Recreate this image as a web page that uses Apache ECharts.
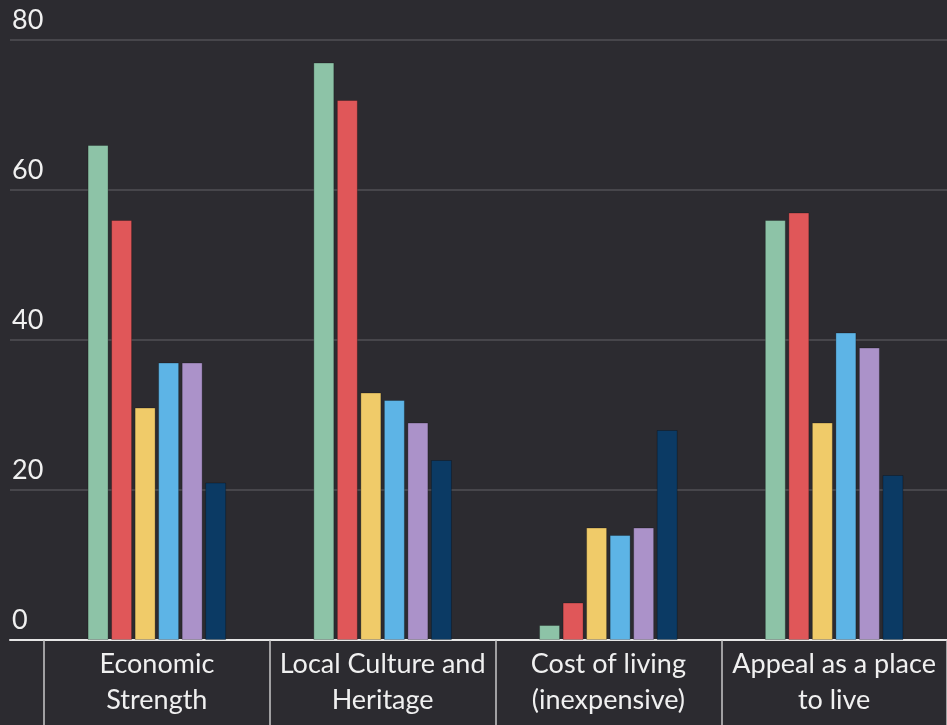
<!DOCTYPE html>
<html>
<head>
<meta charset="utf-8">
<script src="https://cdn.jsdelivr.net/npm/echarts@6/dist/echarts.min.js"></script>
<style>
  html, body { margin: 0; padding: 0; background: #2c2b30; }
  #chart { width: 947px; height: 725px; }
</style>
</head>
<body>
<div id="chart"></div>
<script>
// categories + six series
const categories = ["Economic\nStrength", "Local Culture and\nHeritage", "Cost of living\n(inexpensive)", "Appeal as a place\nto live"];
const seriesNames = ["Series 1", "Series 2", "Series 3", "Series 4", "Series 5", "Series 6"];
const seriesColors = ["#8dc3a7", "#e05759", "#f0cb69", "#5db4e6", "#ab92c9", "#0b3a64"];
const s1 = [66, 77, 2, 56];
const s2 = [56, 72, 5, 57];
const s3 = [31, 33, 15, 29];
const s4 = [37, 32, 14, 41];
const s5 = [37, 29, 15, 39];
const s6 = [21, 24, 28, 22];
const seriesValues = [s1, s2, s3, s4, s5, s6];
const yTicks = [0, 20, 40, 60, 80];

const FONT = "Lato, 'Noto Sans', sans-serif";
const chart = echarts.init(document.getElementById("chart"), null, { renderer: "canvas" });

chart.setOption({
  animation: false,
  backgroundColor: "#2c2b30",
  textStyle: { fontFamily: FONT },
  grid: [
    // background grid: gridlines + y labels + zero line, runs from x=10
    { left: 10, right: -3, top: 40, bottom: 85 },
    // bars + category separators
    { left: 44, right: -3, top: 40, bottom: 85 },
  ],
  xAxis: [
    {
      gridIndex: 0,
      type: "category",
      data: [""],
      axisLine: { show: true, lineStyle: { color: "#e6e6e6", width: 2 } },
      axisTick: { show: false },
      axisLabel: { show: false },
    },
    {
      gridIndex: 1,
      type: "category",
      data: categories,
      axisLine: { show: false },
      axisTick: { show: true, length: 86, lineStyle: { color: "#c8c8c8", width: 1.5 } },
      axisLabel: {
        color: "#f0f0f0",
        fontSize: 27,
        lineHeight: 36,
        margin: 6,
        interval: 0,
        fontFamily: FONT,
      },
    },
  ],
  yAxis: [
    {
      gridIndex: 0,
      type: "value",
      min: yTicks[0],
      max: yTicks[yTicks.length - 1],
      interval: 20,
      axisLine: { show: false },
      axisTick: { show: false },
      splitLine: { show: true, lineStyle: { color: "#505055", width: 1.5 } },
      axisLabel: {
        inside: true,
        margin: 2,
        color: "#f0f0f0",
        fontSize: 27,
        align: "left",
        verticalAlign: "bottom",
        padding: [0, 0, 6, 0],
        fontFamily: FONT,
      },
    },
    {
      gridIndex: 1,
      type: "value",
      min: 0,
      max: 80,
      show: false,
      splitLine: { show: false },
    },
  ],
  series: seriesValues.map((vals, i) => ({
    name: seriesNames[i],
    type: "bar",
    xAxisIndex: 1,
    yAxisIndex: 1,
    data: vals,
    barWidth: 21,
    barGap: "12%",
    itemStyle: { color: seriesColors[i], borderColor: "rgba(0,0,0,0.25)", borderWidth: 1 },
  })),
});
</script>
</body>
</html>
